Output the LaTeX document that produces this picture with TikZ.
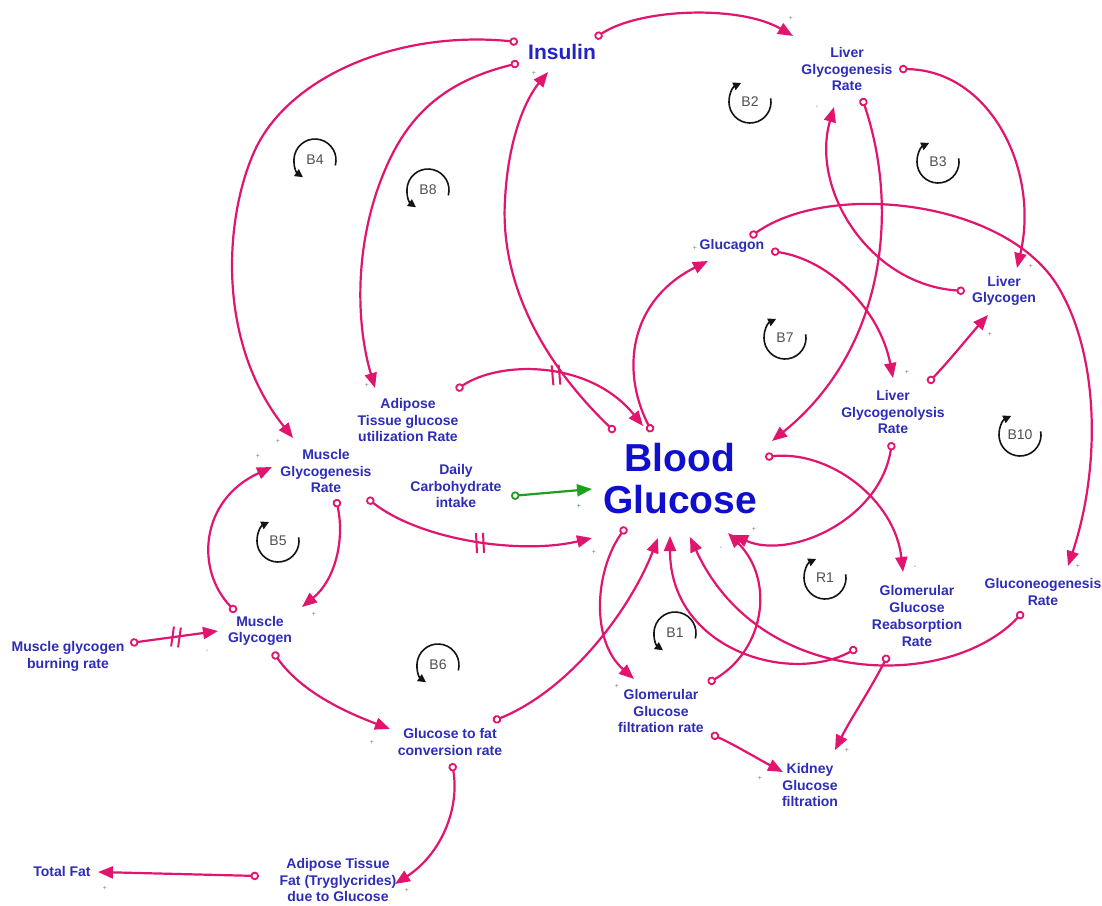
\documentclass[tikz,border=0pt]{standalone}
\usepackage{fontspec}
\setmainfont{Liberation Sans}
\usetikzlibrary{arrows.meta}
\definecolor{lnk}{RGB}{225,20,110}
\definecolor{lblc}{RGB}{45,45,185}
\definecolor{bgc}{RGB}{15,15,205}
\definecolor{insc}{RGB}{35,35,200}
\definecolor{grn}{RGB}{30,160,30}
\definecolor{loopc}{RGB}{20,20,20}
\definecolor{looptc}{RGB}{80,80,80}
\newcommand{\cldloopcw}[3]{%
  \node[looptxt] (#1) at (#2) {#3};
  \draw[loopar] ([shift={(-10:21)}]#1.center) arc[start angle=-10,end angle=245,radius=21];}
\newcommand{\cldloopccw}[3]{%
  \node[looptxt] (#1) at (#2) {#3};
  \draw[loopar] ([shift={(15:21)}]#1.center) arc[start angle=15,end angle=-235,radius=21];}
\newcommand{\delaymark}[2]{%
  \begin{scope}[shift={(#1)},rotate=#2]
    \draw[draw=lnk,line width=2pt] (-3.5,-10) -- (-3.5,10) (3.5,-10) -- (3.5,10);
  \end{scope}}
\begin{document}
\begin{tikzpicture}[x=1pt,y=-1pt,
  lbl/.style={font=\bfseries\fontsize{14}{16.8}\selectfont,text=lblc,align=center,inner sep=0pt},
  link/.style={draw=lnk,line width=2.2pt,
    {Circle[length=8.5pt,width=8.5pt,fill=white,line width=1.8pt]}-{Triangle[length=15pt,width=12pt]}},
  glink/.style={draw=grn,line width=2.2pt,
    {Circle[length=8.5pt,width=8.5pt,fill=white,line width=1.8pt]}-{Triangle[length=15pt,width=12pt]}},
  loopar/.style={draw=loopc,line width=1.6pt,-{Triangle[length=8pt,width=8pt]}},
  looptxt/.style={font=\fontsize{14}{14}\selectfont,text=looptc,inner sep=0pt},
  sgn/.style={font=\fontsize{7}{7}\selectfont,text=gray,inner sep=0pt}]
\useasboundingbox[fill=white] (0,0) rectangle (1102,905);

% ---------- nodes ----------
\node[font=\bfseries\fontsize{21}{24}\selectfont,text=insc,inner sep=0pt] (insulin) at (562,52) {Insulin};
\node[lbl] (lgr) at (847,69) {Liver\\Glycogenesis\\Rate};
\node[lbl] (glucagon) at (732,246) {Glucagon};
\node[lbl] (lg) at (1004,291) {Liver\\Glycogen};
\node[lbl] (lglr) at (893,412) {Liver\\Glycogenolysis\\Rate};
\node[lbl] (adipose) at (408,420) {Adipose\\Tissue glucose\\utilization Rate};
\node[lbl] (mgr) at (326,471) {Muscle\\Glycogenesis\\Rate};
\node[lbl] (daily) at (456,486) {Daily\\Carbohydrate\\intake};
\node[font=\bfseries\fontsize{39}{42}\selectfont,text=bgc,align=center,inner sep=0pt] (bg) at (680,479) {Blood\\Glucose};
\node[lbl] (mg) at (260,631) {Muscle\\Glycogen};
\node[lbl] (mgb) at (68,656) {Muscle glycogen\\burning rate};
\node[lbl] (gnr) at (1043,592) {Gluconeogenesis\\Rate};
\node[lbl] (ggrr) at (917,616) {Glomerular\\Glucose\\Reabsorption\\Rate};
\node[lbl] (ggfr) at (661,711) {Glomerular\\Glucose\\filtration rate};
\node[lbl] (gfc) at (450,742) {Glucose to fat\\conversion rate};
\node[lbl] (kgf) at (810,785) {Kidney\\Glucose\\filtration};
\node[lbl] (tf) at (62,871) {Total Fat};
\node[lbl] (atf) at (338,880) {Adipose Tissue\\Fat (Tryglycrides)\\due to Glucose};

% ---------- loop markers ----------
\cldloopcw{lB2}{750,102}{B2}
\cldloopcw{lB3}{938,162}{B3}
\cldloopccw{lB4}{315,160}{B4}
\cldloopccw{lB8}{428,190}{B8}
\cldloopcw{lB5}{278,541}{B5}
\cldloopcw{lB7}{785,338}{B7}
\cldloopcw{lB10}{1020,435}{B10}
\cldloopcw{lR1}{825,578}{R1}
\cldloopccw{lB1}{675,633}{B1}
\cldloopccw{lB6}{438,665}{B6}

% ---------- connectors ----------
\draw[link] ([shift={(33,-14)}]insulin.center) .. controls (640,8) and (740,5) .. ([shift={(-54,-33)}]lgr.center);
\draw[link] ([shift={(-44,-10)}]insulin.center) .. controls (400,30) and (290,75) .. (255,150)
   .. controls (225,215) and (215,340) .. ([shift={(-33,-33)}]mgr.center);
\draw[link] ([shift={(-43,11)}]insulin.center) .. controls (450,80) and (410,110) .. (385,170)
   .. controls (355,240) and (355,320) .. ([shift={(-33,-32)}]adipose.center);
\draw[link] ([shift={(-65,-47)}]bg.center) .. controls (540,360) and (500,280) .. (505,200)
   .. controls (508,140) and (525,100) .. ([shift={(-14,20)}]insulin.center);
\draw[link] ([shift={(48,-30)}]adipose.center) .. controls (500,360) and (590,360) .. ([shift={(-37,-53)}]bg.center);
\delaymark{556,375}{5}
\draw[link] ([shift={(-28,-47)}]bg.center) .. controls (620,370) and (630,300) .. ([shift={(-24,15)}]glucagon.center);
\draw[link] ([shift={(39,5)}]glucagon.center) .. controls (830,260) and (880,310) .. ([shift={(0,-34)}]lglr.center);
\draw[link] ([shift={(18,-9)}]glucagon.center) .. controls (830,180) and (1010,200) .. (1060,290)
   .. controls (1100,360) and (1100,470) .. ([shift={(25,-26)}]gnr.center);
\draw[link] ([shift={(35,-29)}]lglr.center) .. controls (950,360) and (970,335) .. ([shift={(-16,24)}]lg.center);
\draw[link] ([shift={(52,0)}]lgr.center) .. controls (990,70) and (1040,170) .. ([shift={(13,-23)}]lg.center);
\draw[link] ([shift={(-39,0)}]lg.center) .. controls (870,285) and (810,190) .. ([shift={(-13,38)}]lgr.center);
\draw[link] ([shift={(15,29)}]lgr.center) .. controls (900,210) and (885,350) .. ([shift={(92,-38)}]bg.center);
\draw[link] ([shift={(-1,30)}]lglr.center) .. controls (880,520) and (790,560) .. ([shift={(53,56)}]bg.center);
\draw[link] ([shift={(85,-22)}]bg.center) .. controls (830,450) and (895,500) .. ([shift={(-14,-44)}]ggrr.center);
\draw[link] ([shift={(43,-21)}]gfc.center) .. controls (570,690) and (630,610) .. ([shift={(-22,59)}]bg.center);
\draw[link] ([shift={(47,-28)}]ggfr.center) .. controls (765,650) and (775,580) .. ([shift={(48,54)}]bg.center);
\draw[link] ([shift={(-60,32)}]ggrr.center) .. controls (790,685) and (670,650) .. ([shift={(-10,57)}]bg.center);
\draw[link] ([shift={(-20,20)}]gnr.center) .. controls (950,690) and (760,690) .. ([shift={(10,58)}]bg.center);
\draw[link] ([shift={(-54,48)}]bg.center) .. controls (595,570) and (590,640) .. ([shift={(-27,-32)}]ggfr.center);
\draw[link] ([shift={(50,23)}]ggfr.center) .. controls (735,745) and (760,760) .. ([shift={(-27,-13)}]kgf.center);
\draw[link] ([shift={(-29,39)}]ggrr.center) .. controls (870,690) and (850,720) .. ([shift={(25,-35)}]kgf.center);
\draw[link] ([shift={(41,27)}]mgr.center) .. controls (420,540) and (520,555) .. ([shift={(-88,59)}]bg.center);
\delaymark{480,543}{3}
\draw[link] ([shift={(10,28)}]mgr.center) .. controls (345,540) and (335,580) .. ([shift={(42,-24)}]mg.center);
\draw[link] ([shift={(-24,-19)}]mg.center) .. controls (195,570) and (200,500) .. ([shift={(-54,-4)}]mgr.center);
\draw[link] ([shift={(62,-13)}]mgb.center) -- ([shift={(-42,0)}]mg.center);
\delaymark{176,637}{-8}
\draw[link] ([shift={(13,21)}]mg.center) .. controls (300,690) and (340,710) .. ([shift={(-60,-13)}]gfc.center);
\draw[link] ([shift={(2,21)}]gfc.center) .. controls (460,810) and (440,855) .. ([shift={(57,4)}]atf.center);
\draw[link] ([shift={(-79,-4)}]atf.center) -- ([shift={(36,1)}]tf.center);
\draw[glink] ([shift={(55,10)}]daily.center) -- ([shift={(-88,10)}]bg.center);

% ---------- polarity signs ----------
\node[sgn] at (791,18) {+};
\node[sgn] at (534,73) {+};
\node[sgn] at (278,441) {+};
\node[sgn] at (367,385) {+};
\node[sgn] at (817,107) {-};
\node[sgn] at (1031,266) {+};
\node[sgn] at (695,248) {+};
\node[sgn] at (907,372) {+};
\node[sgn] at (990,334) {+};
\node[sgn] at (915,567) {-};
\node[sgn] at (1078,566) {+};
\node[sgn,text=grn] at (579,506) {+};
\node[sgn] at (594,552) {+};
\node[sgn] at (207,651) {-};
\node[sgn] at (258,456) {+};
\node[sgn] at (314,614) {+};
\node[sgn] at (372,742) {+};
\node[sgn] at (407,890) {+};
\node[sgn] at (105,888) {+};
\node[sgn] at (760,778) {+};
\node[sgn] at (847,750) {+};
\node[sgn] at (617,686) {+};
\node[sgn] at (721,548) {-};
\node[sgn] at (754,529) {+};
\end{tikzpicture}
\end{document}
